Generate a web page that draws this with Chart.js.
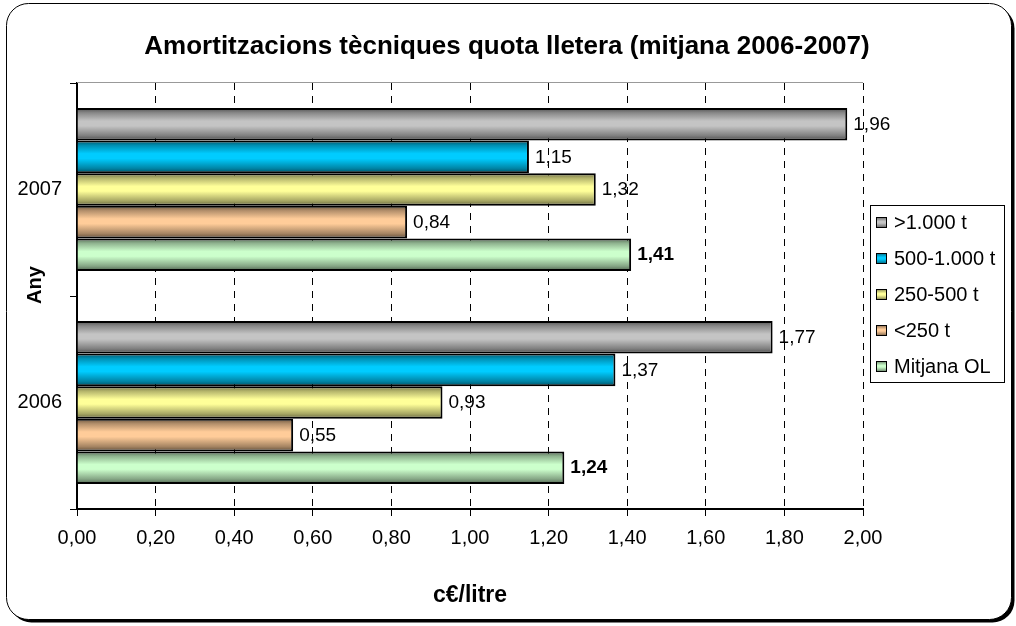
<!DOCTYPE html>
<html>
<head>
<meta charset="utf-8">
<script src="https://cdn.jsdelivr.net/npm/chart.js@4"></script>
<style>
  html, body { margin: 0; padding: 0; background: #fff; }
  #wrap { width: 1016px; height: 626px; position: relative; }
</style>
</head>
<body>
<div id="wrap"><canvas id="chart"></canvas></div>
<script>
// data
const years = ['2007', '2006'];
const seriesNames = ['>1.000 t', '500-1.000 t', '250-500 t', '<250 t', 'Mitjana OL'];
const over1000 = [1.96, 1.77];
const from500to1000 = [1.15, 1.37];
const from250to500 = [1.32, 0.93];
const under250 = [0.84, 0.55];
const averageOL = [1.41, 1.24];
const seriesColors = ['#c4c4c4', '#00ccff', '#ffff99', '#ffcc99', '#ccffcc'];
const xMin = 0, xMax = 2, xStep = 0.2;

const FONT = 'Arial, "Liberation Sans", sans-serif';
const TITLE = 'Amortitzacions tècniques quota lletera (mitjana 2006-2007)';

const shade = (hex, f) => {
  const n = parseInt(hex.slice(1), 16);
  const r = Math.round(((n >> 16) & 255) * f);
  const g = Math.round(((n >> 8) & 255) * f);
  const b = Math.round((n & 255) * f);
  return `rgb(${r},${g},${b})`;
};

const barGradient = (ctx, top, bottom, hex) => {
  const g = ctx.createLinearGradient(0, top, 0, bottom);
  g.addColorStop(0, shade(hex, 0.42));
  g.addColorStop(0.15, shade(hex, 0.7));
  g.addColorStop(0.4, hex);
  g.addColorStop(0.55, hex);
  g.addColorStop(0.85, shade(hex, 0.65));
  g.addColorStop(1, shade(hex, 0.38));
  return g;
};

const comma = (v) => Number(v).toFixed(2).replace('.', ',');

// rounded frame with shadow + title
const frame = {
  id: 'frame',
  beforeDraw(chart) {
    const c = chart.ctx;
    c.save();
    c.fillStyle = '#000';
    c.beginPath(); c.roundRect(9.5, 6.5, 1005, 616, 22); c.fill();
    c.fillStyle = '#fff'; c.strokeStyle = '#000'; c.lineWidth = 1;
    c.beginPath(); c.roundRect(6.5, 3.5, 1005, 616, 22); c.fill(); c.stroke();

    c.fillStyle = '#000';
    c.font = 'bold 26px ' + FONT;
    c.textAlign = 'center';
    c.textBaseline = 'middle';
    c.fillText(TITLE, 507, 47);
    c.restore();
  }
};

// cylinder-like shading + value labels
const bars = {
  id: 'bars',
  beforeDatasetsDraw(chart) {
    chart.data.datasets.forEach((ds, i) => {
      chart.getDatasetMeta(i).data.forEach((el) => {
        el.options = Object.assign({}, el.options, {
          backgroundColor: barGradient(chart.ctx, el.y - el.height / 2, el.y + el.height / 2, seriesColors[i]),
        });
      });
    });
  },
  afterDatasetsDraw(chart) {
    const c = chart.ctx;
    c.save();
    c.fillStyle = '#000';
    c.textBaseline = 'middle';
    c.textAlign = 'left';
    chart.data.datasets.forEach((ds, i) => {
      c.font = (i === chart.data.datasets.length - 1 ? 'bold ' : '') + '19px ' + FONT;
      chart.getDatasetMeta(i).data.forEach((el, j) => {
        c.fillText(comma(ds.data[j]), el.x + 6, el.y + 0.5);
      });
    });
    c.restore();
  }
};

// legend box, axis titles
const extras = {
  id: 'extras',
  afterDraw(chart) {
    const c = chart.ctx;
    const area = chart.chartArea;
    c.save();
    c.strokeStyle = '#999';
    c.lineWidth = 1;
    c.beginPath(); c.moveTo(area.left, area.top - 0.5); c.lineTo(area.right, area.top - 0.5); c.stroke();

    c.strokeStyle = '#000';
    c.strokeRect(870.5, 205.5, 134, 177);
    c.font = '20px ' + FONT;
    c.textBaseline = 'middle';
    chart.data.datasets.forEach((ds, i) => {
      const y = 222 + i * 36;
      c.fillStyle = barGradient(c, y - 5, y + 6, seriesColors[i]);
      c.fillRect(876, y - 5, 11, 11);
      c.strokeRect(876.5, y - 4.5, 10, 10);
      c.fillStyle = '#000';
      c.fillText(ds.label, 894, y + 1);
    });

    c.textAlign = 'center';
    c.font = 'bold 23px ' + FONT;
    c.fillText('c€/litre', 470, 596);
    c.font = 'bold 20px ' + FONT;
    c.translate(35, 285);
    c.rotate(-Math.PI / 2);
    c.fillText('Any', 0, 0);
    c.restore();
  }
};

const seriesData = [over1000, from500to1000, from250to500, under250, averageOL];

new Chart(document.getElementById('chart'), {
  type: 'bar',
  data: {
    labels: years,
    datasets: seriesNames.map((name, i) => ({
      label: name,
      data: seriesData[i],
      backgroundColor: seriesColors[i],
      borderColor: '#000',
      borderWidth: 2,
      barPercentage: 1,
      categoryPercentage: 0.765,
    })),
  },
  options: {
    indexAxis: 'y',
    responsive: true,
    maintainAspectRatio: false,
    devicePixelRatio: 1,
    animation: false,
    layout: { padding: { left: 17, right: 153, top: 83, bottom: 0 } },
    plugins: {
      legend: { display: false },
      tooltip: { enabled: false },
      title: { display: false },
    },
    scales: {
      x: {
        min: xMin,
        max: xMax,
        ticks: {
          stepSize: xStep,
          color: '#000',
          padding: 10,
          font: { family: FONT, size: 20 },
          callback: (v) => comma(v),
        },
        grid: { color: '#000', lineWidth: 1, tickLength: 7, tickColor: '#000' },
        border: { color: '#000', width: 2, dash: [7, 6] },
        afterFit: (scale) => { scale.height = 117; },
      },
      y: {
        ticks: { color: '#000', padding: 8, font: { family: FONT, size: 20 } },
        grid: { drawOnChartArea: false, color: '#000', tickLength: 7, tickColor: '#000' },
        border: { color: '#000', width: 2 },
        afterFit: (scale) => { scale.width = 60; },
      },
    },
  },
  plugins: [frame, bars, extras],
});
</script>
</body>
</html>
